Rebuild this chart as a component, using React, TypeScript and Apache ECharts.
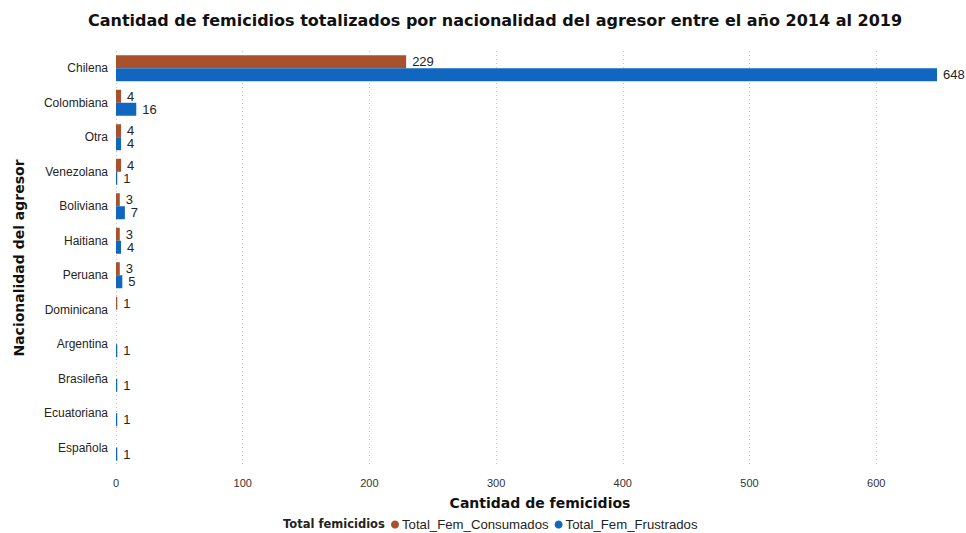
import React, { useEffect, useRef } from "react";
import * as echarts from "echarts";

const categories = [
  "Chilena",
  "Colombiana",
  "Otra",
  "Venezolana",
  "Boliviana",
  "Haitiana",
  "Peruana",
  "Dominicana",
  "Argentina",
  "Brasileña",
  "Ecuatoriana",
  "Española",
];
const consumados = [229, 4, 4, 4, 3, 3, 3, 1, null, null, null, null];
const frustrados = [648, 16, 4, 1, 7, 4, 5, null, 1, 1, 1, 1];
const xTicks = [0, 100, 200, 300, 400, 500, 600];

const FONT = "'Liberation Sans', Arial, sans-serif";
const HEAVY = "'DejaVu Sans', 'Liberation Sans', sans-serif";

export default function App() {
  const ref = useRef<HTMLDivElement>(null);
  useEffect(() => {
    document.body.style.margin = "0";
    if (!ref.current) return;
    const chart = echarts.init(ref.current, null, { renderer: "svg" });
    const labelStyle = {
      show: true,
      position: "right" as const,
      distance: 6,
      color: "#252423",
      fontSize: 13,
      fontFamily: FONT,
    };
    chart.setOption({
      animation: false,
      textStyle: { fontFamily: FONT },
      title: {
        text: "Cantidad de femicidios totalizados por nacionalidad del agresor entre el año 2014 al 2019",
        left: 83,
        top: 7,
        textStyle: { fontSize: 16, fontWeight: "bold", color: "#111", fontFamily: HEAVY },
      },
      legend: {
        data: ["Total_Fem_Consumados", "Total_Fem_Frustrados"],
        left: 391,
        top: 518,
        padding: 0,
        icon: "circle",
        itemWidth: 8,
        itemHeight: 8,
        itemGap: 6,
        textStyle: { fontSize: 13.2, color: "#252423", fontFamily: FONT, padding: [0, 0, 0, -2] },
      },
      graphic: [
        {
          type: "text",
          left: 283,
          top: 518,
          style: { text: "Total femicidios", font: `bold 11.5px ${HEAVY}`, fill: "#252423" },
        },
        {
          type: "text",
          x: 540,
          y: 503,
          style: {
            text: "Cantidad de femicidios",
            font: `bold 14px ${HEAVY}`,
            fill: "#111",
            textAlign: "center",
            textVerticalAlign: "middle",
          },
        },
        {
          type: "text",
          x: 19,
          y: 258,
          rotation: Math.PI / 2,
          style: {
            text: "Nacionalidad del agresor",
            font: `bold 14px ${HEAVY}`,
            fill: "#111",
            textAlign: "center",
            textVerticalAlign: "middle",
          },
        },
      ],
      grid: { left: 116, right: 29, top: 51, height: 414 },
      xAxis: {
        type: "value",
        min: xTicks[0],
        max: "dataMax",
        interval: 100,
        axisLine: { show: false },
        axisTick: { show: false },
        axisLabel: {
          margin: 12,
          fontSize: 11,
          color: "#333",
          fontFamily: FONT,
          showMaxLabel: false,
          formatter: (v: number) => (xTicks.indexOf(v) >= 0 ? String(v) : ""),
        },
        splitLine: {
          show: true,
          showMaxLine: false,
          lineStyle: { type: [1, 3], color: "#c4c4c4", width: 1 },
        },
      },
      yAxis: {
        type: "category",
        data: categories,
        inverse: true,
        axisLine: { show: false },
        axisTick: { show: false },
        axisLabel: { margin: 8, fontSize: 12, color: "#252423", fontFamily: FONT },
        splitLine: { show: false },
      },
      series: [
        {
          name: "Total_Fem_Consumados",
          type: "bar",
          data: consumados,
          barWidth: 13,
          barGap: "0%",
          itemStyle: { color: "#A8522D" },
          label: labelStyle,
        },
        {
          name: "Total_Fem_Frustrados",
          type: "bar",
          data: frustrados,
          barWidth: 13,
          barGap: "0%",
          itemStyle: { color: "#1167BF" },
          label: labelStyle,
        },
      ],
    });
    return () => chart.dispose();
  }, []);
  return <div ref={ref} style={{ width: 966, height: 533 }} />;
}
